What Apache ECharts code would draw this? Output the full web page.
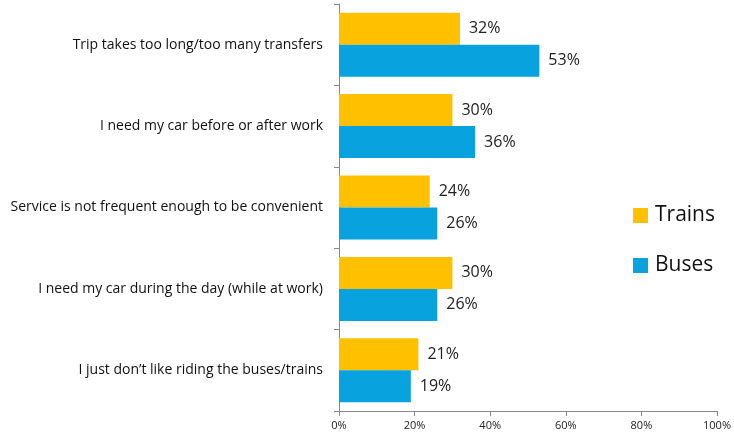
<!DOCTYPE html>
<html>
<head>
<meta charset="utf-8">
<script src="https://cdn.jsdelivr.net/npm/echarts@6/dist/echarts.min.js"></script>
<style>
  html, body { margin: 0; padding: 0; background: #fff; }
  #chart { width: 734px; height: 440px; }
</style>
</head>
<body>
<div id="chart"></div>
<script>
// Reasons for not using transit, share of respondents
const reasons = [
  'Trip takes too long/too many transfers',
  'I need my car before or after work',
  'Service is not frequent enough to be convenient',
  'I need my car during the day (while at work)',
  'I just don\u2019t like riding the buses/trains'
];
const trains = [32, 30, 24, 30, 21];
const buses = [53, 36, 26, 26, 19];
const xTicks = [0, 20, 40, 60, 80, 100];

const FONT = '"Open Sans", Lato, sans-serif';
const chart = echarts.init(document.getElementById('chart'), null, { renderer: 'canvas' });

const valueLabel = {
  show: true,
  position: 'right',
  distance: 9,
  formatter: p => p.value + '%',
  color: '#222',
  fontSize: 16,
  fontFamily: FONT
};

chart.setOption({
  animation: false,
  grid: { left: 339, right: 15, top: 4, bottom: 29, containLabel: false },
  legend: {
    orient: 'vertical',
    left: 628,
    top: 200,
    itemWidth: 15,
    itemHeight: 15,
    itemGap: 29,
    icon: 'rect',
    textStyle: { fontSize: 21, fontFamily: FONT, color: '#111', padding: [0, 0, 0, 2] },
    data: ['Trains', 'Buses']
  },
  xAxis: {
    type: 'value',
    min: xTicks[0],
    max: xTicks[xTicks.length - 1],
    interval: 20,
    splitLine: { show: false },
    axisLine: { show: true, lineStyle: { color: '#888' } },
    axisTick: { show: true, length: 5, lineStyle: { color: '#888' } },
    axisLabel: { formatter: v => v + '%', fontSize: 11, fontFamily: FONT, color: '#222', margin: 9 }
  },
  yAxis: {
    type: 'category',
    inverse: true,
    data: reasons,
    axisLine: { show: true, lineStyle: { color: '#888' } },
    axisTick: { show: true, length: 5, alignWithLabel: false, lineStyle: { color: '#888' } },
    axisLabel: { fontSize: 14, fontFamily: FONT, color: '#111', margin: 16 }
  },
  series: [
    {
      name: 'Trains',
      type: 'bar',
      data: trains,
      barWidth: 32,
      barGap: '0%',
      barCategoryGap: '21%',
      itemStyle: { color: '#FFC000' },
      label: valueLabel
    },
    {
      name: 'Buses',
      type: 'bar',
      data: buses,
      barWidth: 32,
      barGap: '0%',
      barCategoryGap: '21%',
      itemStyle: { color: '#08A3DE' },
      label: valueLabel
    }
  ]
});
</script>
</body>
</html>
